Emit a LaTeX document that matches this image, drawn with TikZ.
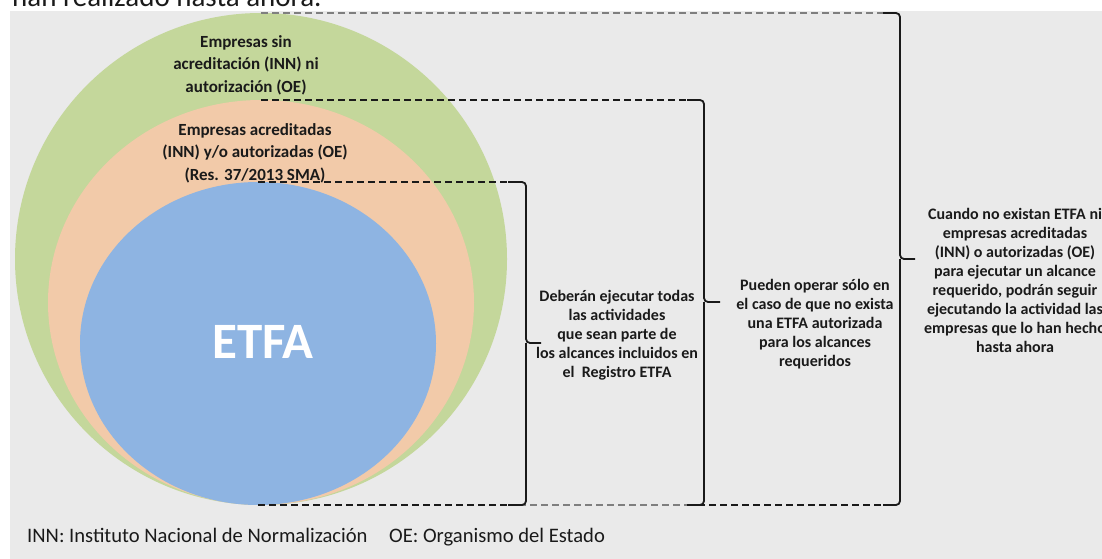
\documentclass[tikz,border=0pt]{standalone}
\usepackage{fontspec}
\setmainfont{Carlito}
\usetikzlibrary{shapes.geometric}

\definecolor{fondo}{HTML}{EAEAEA}
\definecolor{verde}{HTML}{C4D79B}
\definecolor{salmon}{HTML}{F2CAA9}
\definecolor{azul}{HTML}{8EB4E2}
\definecolor{gris}{HTML}{7F7F7F}
\definecolor{tinta}{HTML}{1A1A1A}

\tikzset{
  circulo/.style={ellipse,draw=none,inner sep=0pt,outer sep=0pt},
  rotulo/.style={font=\bfseries\fontsize{17}{22.5}\selectfont,align=center,text=tinta},
  nota/.style={font=\bfseries\fontsize{16}{19}\selectfont,align=center,text=tinta},
  llave/.style={line width=1.8pt,draw=tinta,rounded corners=4pt},
  guia/.style={dash pattern=on 7pt off 4pt,line width=1.3pt,draw=tinta},
  guiagris/.style={guia,draw=gris,line width=1.8pt},
  leyenda/.style={anchor=base west,inner sep=0pt,font=\fontsize{20.6}{22}\selectfont,text=tinta}
}

\begin{document}
\begin{tikzpicture}[x=1pt,y=-1pt]
  \useasboundingbox (0,0) rectangle (1102,559);
  \clip (0,0) rectangle (1102,559);
  \fill[fondo] (10,11) rectangle (1102,559);

  % texto cortado de la pagina
  \node[anchor=base west,inner sep=0pt,font=\fontsize{29}{30}\selectfont,text=tinta] (previo) at (12,7) {han realizado hasta ahora.};

  % circulos
  \node[circulo,fill=verde,minimum width=492pt,minimum height=492pt] (verde) at (261,259) {};
  \node[circulo,fill=salmon,minimum width=426pt,minimum height=405pt] (salmon) at (261,302.5) {};
  \node[circulo,fill=azul,minimum width=356pt,minimum height=323pt] (azul) at (258,343.5) {};

  \node[rotulo] (sin) at (246,65) {Empresas sin\\acreditación (INN) ni\\autorización (OE)};
  \node[rotulo] (acred) at (255,153) {Empresas acreditadas\\(INN) y/o autorizadas (OE)\\(Res. 37/2013 SMA)};
  \node[font=\bfseries\fontsize{51}{53}\selectfont,text=white] (etfa) at (263,341.5) {ETFA};

  % llaves
  \coordinate (b1a) at (508,182);
  \coordinate (b1b) at (508,505);
  \coordinate (v1) at (526,343);
  \coordinate (p1) at (541,343);
  \coordinate (b2a) at (687,100);
  \coordinate (b2b) at (687,505);
  \coordinate (v2) at (704,302);
  \coordinate (p2) at (720,302);
  \coordinate (b3a) at (883,13);
  \coordinate (b3b) at (883,505);
  \coordinate (v3) at (900,259);
  \coordinate (p3) at (915,259);

  \draw[guia] (azul.north) -- (b1a);
  \draw[guia] (salmon.north) -- (b2a);
  \draw[guiagris] (verde.north) -- (b3a);
  \draw[guia] (azul.south) -- (b1b);
  \draw[guiagris] (b1b) -- (b2b);
  \draw[guia] (b2b) -- (b3b);

  \foreach \i in {1,2,3} {
    \draw[llave] (b\i a) -| (v\i) -- (p\i);
    \draw[llave] (b\i b) -| (v\i);
  }

  \node[nota] (n1) at (617,335) {Deberán ejecutar todas\\las actividades\\que sean parte de\\los alcances incluidos en\\el\ \ Registro ETFA};
  \node[nota] (n2) at (815,324) {Pueden operar sólo en\\el caso de que no exista\\una ETFA autorizada\\para los alcances\\requeridos};
  \node[nota] (n3) at (1015,280) {Cuando no existan ETFA ni\\empresas acreditadas\\(INN) o autorizadas (OE)\\para ejecutar un alcance\\requerido, podrán seguir\\ejecutando la actividad las\\empresas que lo han hecho\\hasta ahora};

  % leyenda
  \node[leyenda] (inn) at (27,542) {INN: Instituto Nacional de Normalización};
  \node[leyenda] (oe) at (389,542) {OE: Organismo del Estado};
\end{tikzpicture}
\end{document}
